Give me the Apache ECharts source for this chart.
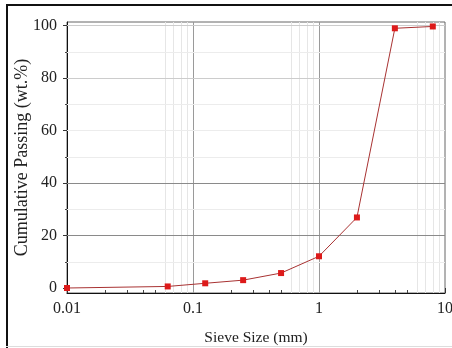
<!DOCTYPE html>
<html><head><meta charset="utf-8">
<script src="https://cdn.jsdelivr.net/npm/echarts@6/dist/echarts.min.js"></script>
<style>html,body{margin:0;padding:0;background:#fff}#c{width:452px;height:348px}</style>
</head><body><div id="c"></div>
<script>
var sieveSizes = [0.01, 0.063, 0.125, 0.25, 0.5, 1, 2, 4, 8];
var passing = [0, 0.6, 1.8, 3.0, 5.7, 12.1, 26.9, 99.0, 99.7];
var yMajorTicks = [0, 20, 40, 60, 80, 100];
var yMinorTicks = [10, 30, 50, 70, 90];
var xMinorTicks = [0.02,0.03,0.04,0.05,0.06,0.07,0.08,0.09,0.2,0.3,0.4,0.5,0.6,0.7,0.8,0.9,2,3,4,5,6,7,8,9];
var xMajorGrid = [0.1, 1];
var xMinorGrid = [0.06,0.07,0.08,0.09,0.6,0.7,0.8,0.9,6,7,8,9];
var hGridDark = [20, 40];
var hGridLight = [80, 100];
var hGridFaint = [10, 30, 50, 60, 70, 90];

var font = '"Liberation Serif","DejaVu Serif",serif';
var chart = echarts.init(document.getElementById('c'), null, {renderer:'canvas'});

var marks = [];
xMajorGrid.forEach(function(v){marks.push({xAxis:v, lineStyle:{color:'#9a9a9a',width:1,type:'solid'}});});
xMinorGrid.forEach(function(v){marks.push({xAxis:v, lineStyle:{color:'#e6e6e6',width:1,type:'solid'}});});
hGridDark.forEach(function(v){marks.push({yAxis:v, lineStyle:{color:'#8a8a8a',width:1,type:'solid'}});});
hGridLight.forEach(function(v){marks.push({yAxis:v, lineStyle:{color:'#cccccc',width:1,type:'solid'}});});
hGridFaint.forEach(function(v){marks.push({yAxis:v, lineStyle:{color:'#ececec',width:1,type:'solid'}});});

chart.setOption({
  animation:false,
  grid:{left:67, right:7, top:22, bottom:55, containLabel:false, outerBoundsMode:'none', show:true, borderColor:'#666', borderWidth:1, backgroundColor:'transparent'},
  xAxis:[{
    type:'log', logBase:10, min:0.01, max:10,
    name:'Sieve Size (mm)', nameLocation:'middle', nameGap:37, nameMoveOverlap:false,
    nameTextStyle:{fontFamily:font, fontSize:15.5, color:'#222'},
    axisLine:{show:true, onZero:false, lineStyle:{color:'#111', width:1}},
    axisTick:{show:true, inside:true, length:5, lineStyle:{color:'#333'}},
    axisLabel:{margin:8, fontFamily:font, fontSize:16, color:'#222', formatter:function(v){return String(v);}},
    splitLine:{show:false}, minorTick:{show:false}
  },{
    type:'log', logBase:10, min:0.01, max:10, position:'bottom', offset:0,
    axisLine:{show:false, onZero:false},
    axisTick:{show:true, inside:true, length:3, customValues:xMinorTicks, lineStyle:{color:'#444'}},
    axisLabel:{show:false}, splitLine:{show:false}
  }],
  yAxis:[{
    type:'value', min:-1.9, max:101.4,
    name:'Cumulative Passing (wt.%)', nameLocation:'middle', nameGap:36, nameMoveOverlap:false,
    nameTextStyle:{fontFamily:font, fontSize:18, color:'#222'},
    axisLine:{show:true, onZero:false, lineStyle:{color:'#111', width:1}},
    axisTick:{show:true, length:4, customValues:yMajorTicks, lineStyle:{color:'#333'}},
    axisLabel:{margin:10, fontFamily:font, fontSize:16, color:'#222', customValues:yMajorTicks},
    splitLine:{show:false}
  },{
    type:'value', min:-1.9, max:101.4, position:'left', offset:0,
    axisLine:{show:false, onZero:false},
    axisTick:{show:true, length:2, customValues:yMinorTicks, lineStyle:{color:'#444'}},
    axisLabel:{show:false}, splitLine:{show:false}
  }],
  series:[{
    type:'line', xAxisIndex:0, yAxisIndex:0,
    data: sieveSizes.map(function(s,i){return [s, passing[i]];}),
    symbol:'rect', symbolSize:6,
    itemStyle:{color:'#dd1a1a'},
    lineStyle:{color:'#a83232', width:1},
    z:5,
    markLine:{silent:true, symbol:'none', label:{show:false}, animation:false, z:1, data:marks}
  }],
  graphic:[
    {type:'rect', shape:{x:6, y:4, width:2, height:344}, style:{fill:'#111'}, silent:true},
    {type:'rect', shape:{x:6, y:4, width:446, height:2}, style:{fill:'#111'}, silent:true},
    {type:'rect', shape:{x:6, y:346, width:446, height:1}, style:{fill:'#ddd'}, silent:true}
  ]
});
</script></body></html>
